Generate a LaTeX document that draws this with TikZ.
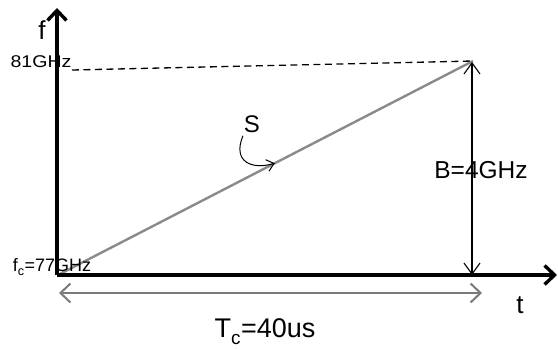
\documentclass[tikz,border=0pt]{standalone}
\usepackage{fontspec}
\setmainfont{Liberation Sans}
\usepackage{tikz}
\usetikzlibrary{arrows.meta,positioning,calc}
\definecolor{Ramp}{HTML}{8A8A8A}
\definecolor{Span}{HTML}{7A7A7A}

\begin{document}
\begin{tikzpicture}[
    x=1pt,y=-1pt,
    axis/.style={line width=3.4pt,draw=black,-{Straight Barb[length=10pt,width=19pt]}},
    ramp/.style={line width=2.4pt,draw=Ramp},
    span/.style={{Straight Barb[length=10pt,width=19pt]}-{Straight Barb[length=10pt,width=19pt]},line width=2pt,draw=Span},
    band/.style={{Straight Barb[length=11pt,width=16pt]}-{Straight Barb[length=11pt,width=16pt]},line width=1.1pt},
    tag/.style={inner sep=0pt,font=\fontsize{#1}{#1}\selectfont}
]
\useasboundingbox (0,0) rectangle (558,350);
\coordinate (o) at (57,275);
\coordinate (ytop) at (57,8);
\coordinate (xend) at (557,275);
\coordinate (s0) at (60,274);
\coordinate (s1) at (473,61);
\coordinate (d0) at (72,70);
\coordinate (b0) at (472,275);
\coordinate (b1) at (472,62);
\coordinate (c0) at (59,293);
\coordinate (c1) at (482,293);
\coordinate (hit) at ($(s0)!0.52!(s1)$);
% chirp ramp and the 81GHz level
\draw[ramp] (s0) -- (s1);
\draw[line width=1.3pt,dash pattern=on 7pt off 4.5pt] (d0) -- (s1);
% axes
\draw[axis] (o) -- (ytop);
\draw[axis] (o) -- (xend);
\node[tag=26] (flab) at (42,30) {f};
\node[tag=26] (tlab) at (520,305) {t};
\node[tag=17] (hi) at (41,62) {\scalebox{1.15}[1]{81GHz}};
\node[tag=18] (lo) at (52,267) {f\raisebox{-2pt}{\textsubscript{c}}=77GHz};
% bandwidth and chirp time
\draw[band] (b0) -- (b1);
\node[tag=24.5] (bw) at (481,170) {B=4GHz};
\draw[span] (c0) -- (c1);
\node[tag=27] (tc) at (265,332) {T\raisebox{-3pt}{\textsubscript{c}}=40us};
% slope
\node[tag=24] (slab) at (252,124) {S};
\draw[line width=1pt,-{Straight Barb[length=7pt,width=12pt]}] (slab.south) ++(-9,3) .. controls (232,162) and (252,170) .. (hit);
\end{tikzpicture}
\end{document}
